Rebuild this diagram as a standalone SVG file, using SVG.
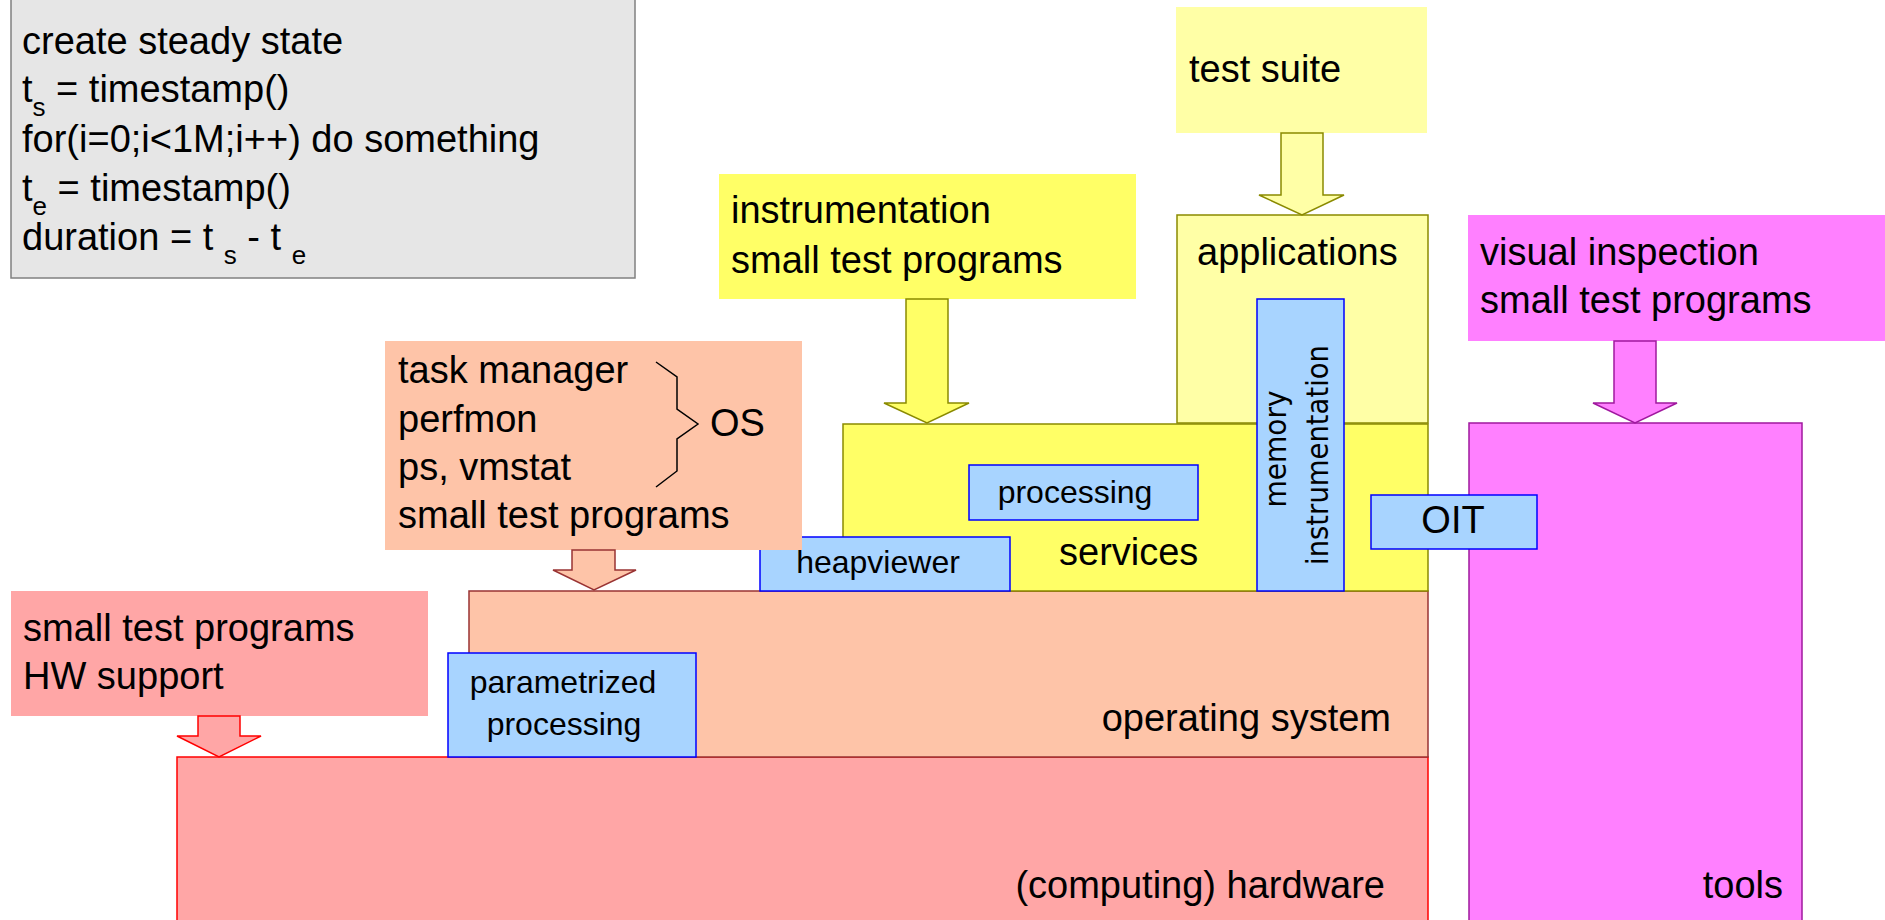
<svg xmlns="http://www.w3.org/2000/svg" width="1885" height="920" viewBox="0 0 1885 920">
<style>
text{font-family:"Liberation Sans",Arial,sans-serif;font-size:38px;fill:#000}
.sm{font-size:32px}
.rot{font-family:"DejaVu Sans","Liberation Sans",sans-serif;font-size:30px}
.gray{fill:#e6e6e6;stroke:#808080;stroke-width:1.5}
.paleY{fill:#ffffa6}
.paleYs{fill:#ffffa6;stroke:#8a8a00;stroke-width:1.5}
.yel{fill:#ffff66}
.yels{fill:#ffff66;stroke:#8a8a00;stroke-width:1.5}
.sal{fill:#fec4a8}
.sals{fill:#fec4a8;stroke:#993333;stroke-width:1.5}
.pink{fill:#ffa6a6}
.pinks{fill:#ffa6a6;stroke:#ff0000;stroke-width:1.5}
.mag{fill:#ff80ff}
.mags{fill:#ff80ff;stroke:#a0189f;stroke-width:1.5}
.blue{fill:#a8d4ff;stroke:#0000ff;stroke-width:1.5}
.brace{fill:none;stroke:#000;stroke-width:1.5}
.mid{text-anchor:middle}
.end{text-anchor:end}
</style>

<g id="code-box">
<rect class="gray" x="11" y="-2" width="624" height="280"/>
<text x="22" y="54">create steady state</text>
<text x="22" y="102">t<tspan dy="14" font-size="26">s</tspan><tspan dy="-14"> = timestamp()</tspan></text>
<text x="22" y="152">for(i=0;i&lt;1M;i++) do something</text>
<text x="22" y="201">t<tspan dy="14" font-size="26">e</tspan><tspan dy="-14"> = timestamp()</tspan></text>
<text x="22" y="250">duration = t <tspan dy="14" font-size="26">s</tspan><tspan dy="-14"> - t </tspan><tspan dy="14" font-size="26">e</tspan></text>
</g>

<g id="hardware">
<rect class="pinks" x="177" y="757" width="1251" height="170"/>
<text class="end" x="1385" y="898">(computing) hardware</text>
</g>

<g id="operating-system">
<rect class="sals" x="469" y="591" width="959" height="166"/>
<text class="end" x="1391" y="731">operating system</text>
</g>

<g id="parametrized-processing">
<rect class="blue" x="448" y="653" width="248" height="104"/>
<text class="sm mid" x="563" y="693">parametrized</text>
<text class="sm mid" x="564" y="735">processing</text>
</g>

<g id="applications">
<rect class="paleYs" x="1177" y="215" width="251" height="208"/>
<text x="1197" y="265">applications</text>
</g>

<g id="services">
<rect class="yels" x="843" y="424" width="585" height="167"/>
<text x="1059" y="565">services</text>
</g>

<g id="processing">
<rect class="blue" x="969" y="465" width="229" height="55"/>
<text class="sm mid" x="1075" y="503">processing</text>
</g>

<g id="heapviewer">
<rect class="blue" x="760" y="537" width="250" height="54"/>
<text class="sm mid" x="878" y="573">heapviewer</text>
</g>

<g id="memory-instrumentation">
<rect class="blue" x="1257" y="299" width="87" height="292"/>
<text class="rot mid" transform="translate(1286 449) rotate(-90)" textLength="117" lengthAdjust="spacingAndGlyphs">memory</text>
<text class="rot mid" transform="translate(1328 455) rotate(-90)" textLength="220" lengthAdjust="spacingAndGlyphs">instrumentation</text>
</g>

<g id="tools">
<rect class="mags" x="1469" y="423" width="333" height="504"/>
<text class="end" x="1783" y="898">tools</text>
</g>

<g id="OIT">
<rect class="blue" x="1371" y="495" width="166" height="54"/>
<text class="mid" x="1453" y="533">OIT</text>
</g>

<g id="test-suite">
<rect class="paleY" x="1176" y="7" width="251" height="126"/>
<text x="1189" y="82">test suite</text>
</g>

<g id="instrumentation-tools">
<rect class="yel" x="719" y="174" width="417" height="125"/>
<text x="731" y="223">instrumentation</text>
<text x="731" y="273">small test programs</text>
</g>

<g id="visual-inspection">
<rect class="mag" x="1468" y="215" width="417" height="126"/>
<text x="1480" y="265">visual inspection</text>
<text x="1480" y="313">small test programs</text>
</g>

<g id="os-tools">
<rect class="sal" x="385" y="341" width="417" height="209"/>
<text x="398" y="383">task manager</text>
<text x="398" y="432">perfmon</text>
<text x="398" y="480">ps, vmstat</text>
<text x="398" y="528">small test programs</text>
<polyline class="brace" points="656,362 677,377 677,409 698,424 677,439 677,471 656,487"/>
<text x="710" y="436">OS</text>
</g>

<g id="hw-tools">
<rect class="pink" x="11" y="591" width="417" height="125"/>
<text x="23" y="641">small test programs</text>
<text x="23" y="689">HW support</text>
</g>

<g id="connectors">
<polygon class="paleYs" points="1281,133 1323,133 1323,195 1344,195 1302,215 1259,195 1281,195"/>
<polygon class="yels" points="906,299 948,299 948,403 969,403 927,423 884,403 906,403"/>
<polygon class="mags" points="1614,341 1656,341 1656,403 1677,403 1635,423 1593,403 1614,403"/>
<polygon class="sals" points="572,550 615,550 615,570 636,570 594,590 553,570 572,570"/>
<polygon class="pinks" points="198,716 240,716 240,736 261,736 219,757 177,736 198,736"/>
</g>
</svg>
